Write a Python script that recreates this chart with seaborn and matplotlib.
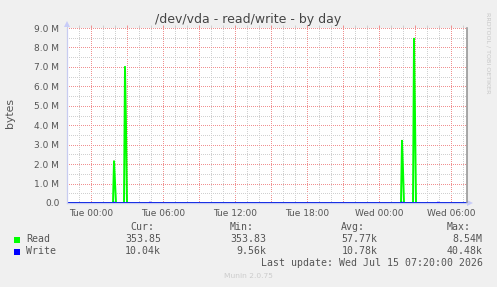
import numpy as np
import pandas as pd
import matplotlib
matplotlib.use("Agg")
import matplotlib.pyplot as plt
import matplotlib.dates as mdates
import seaborn as sns
from matplotlib.ticker import MultipleLocator, FixedLocator, FuncFormatter
from matplotlib.patches import Rectangle

# ---------------- data ----------------
start_time = "2026-07-13 22:00"
end_time = "2026-07-15 07:20"
sample_minutes = 5

read_baseline = 354.0
write_baseline = 10040.0

read_spike_times = ["2026-07-14 01:55", "2026-07-14 02:00",
                    "2026-07-14 02:50", "2026-07-14 02:55",
                    "2026-07-15 01:55", "2026-07-15 02:00",
                    "2026-07-15 02:55", "2026-07-15 03:00"]
read_spike_values = [2.15e6, 1.1e6,
                     7.0e6, 4.0e6,
                     3.2e6, 1.7e6,
                     8.45e6, 4.5e6]

write_spike_times = ["2026-07-14 01:55", "2026-07-14 04:55",
                     "2026-07-15 01:55", "2026-07-15 04:55"]
write_spike_values = [40480.0, 38000.0, 39000.0, 36000.0]

title = "/dev/vda - read/write - by day"
y_label = "bytes"
series_names = ["Read", "Write"]
series_colors = ["#00ff00", "#0000ff"]
legend_headers = ["Cur:", "Min:", "Avg:", "Max:"]
read_stats = ["353.85", "353.83", "57.77k", "8.54M"]
write_stats = ["10.04k", "9.56k", "10.78k", "40.48k"]
last_update = "Last update: Wed Jul 15 07:20:00 2026"
footer = "Munin 2.0.75"
side_text = "RRDTOOL / TOBI OETIKER"

# ---------------- build series ----------------
times = pd.date_range(start_time, end_time, freq=f"{sample_minutes}min")
read = pd.Series(read_baseline, index=times)
for t, v in zip(read_spike_times, read_spike_values):
    read[pd.Timestamp(t)] = v
write = pd.Series(write_baseline, index=times)
for t, v in zip(write_spike_times, write_spike_values):
    write[pd.Timestamp(t)] = v
df = pd.DataFrame({"time": times, "Read": read.values, "Write": write.values})

# ---------------- style ----------------
sns.set_theme(style="white")
plt.rcParams["font.family"] = ["DejaVu Sans"]

W, H = 497, 287
fig = plt.figure(figsize=(W / 100, H / 100), dpi=100, facecolor="#f0f0f0")

def fx(x):
    return x / W

def fy(y):
    return 1 - y / H

ax = fig.add_axes([fx(67), fy(203), 400 / W, 175 / H])
ax.set_facecolor("white")
ax.set_axisbelow(True)

sns.lineplot(data=df, x="time", y="Read", ax=ax, color=series_colors[0],
             linewidth=1.4, legend=False)
sns.lineplot(data=df, x="time", y="Write", ax=ax, color=series_colors[1],
             linewidth=1.0, legend=False)

ax.set_xlim(pd.Timestamp(start_time), pd.Timestamp(end_time))
ax.set_ylim(0, 9.0e6)
ax.set_xlabel("")
ax.set_ylabel("")

ax.xaxis.set_major_locator(mdates.HourLocator(byhour=range(0, 24, 3)))
ax.xaxis.set_minor_locator(mdates.HourLocator(byhour=[h for h in range(24) if h % 3]))

def xfmt(v, pos):
    d = mdates.num2date(v)
    if d.hour % 6 == 0:
        return d.strftime("%a %H:%M")
    return ""

ax.xaxis.set_major_formatter(FuncFormatter(xfmt))
ax.yaxis.set_major_locator(MultipleLocator(1e6))
ax.yaxis.set_minor_locator(FixedLocator(np.arange(0.5e6, 9.0e6, 1e6)))
ax.yaxis.set_major_formatter(FuncFormatter(
    lambda v, p: "0.0" if v == 0 else f"{v / 1e6:.1f} M"))

major_c = "#f09090"
minor_c = "#d0d0d0"
ax.grid(which="minor", color=minor_c, linestyle=(0.5, (1, 1)), linewidth=0.72)
ax.grid(which="major", color=major_c, linestyle=(0.5, (1, 1)), linewidth=0.72)

ax.tick_params(axis="both", which="major", labelsize=6.5, labelcolor="#555555",
               length=2, width=0.7, color=major_c, direction="out")
ax.tick_params(axis="both", which="minor", length=2, width=0.7,
               color=minor_c, direction="out")
ax.tick_params(axis="x", which="both", top=True)
ax.tick_params(axis="x", which="major", pad=2)
ax.tick_params(axis="y", which="major", pad=3.5)

ax.spines["top"].set_visible(False)
ax.spines["left"].set_color("#c8ccf0")
ax.spines["bottom"].set_color("#c8ccf0")
ax.spines["left"].set_linewidth(0.9)
ax.spines["bottom"].set_linewidth(0.9)
ax.spines["right"].set_color("#909090")
ax.spines["right"].set_linewidth(1.1)

ax.plot(0, 1.025, marker="^", transform=ax.transAxes, clip_on=False,
        color="#c8ccf8", markersize=4, markeredgewidth=0)
ax.plot(1.0085, 0, marker=">", transform=ax.transAxes, clip_on=False,
        color="#c8ccf8", markersize=4, markeredgewidth=0)

# ---------------- texts ----------------
fig.text(fx(248), fy(19), title, ha="center", va="center", fontsize=9,
         color="#444444")
fig.text(fx(10), fy(113), y_label, ha="center", va="center", rotation=90,
         fontsize=7.8, color="#555555")
fig.text(fx(488), fy(53), side_text, ha="center", va="center", rotation=-90,
         fontsize=4.6, color="#c8c8c8")

mono = dict(family="DejaVu Sans Mono", fontsize=7.1, color="#555555",
            va="center")
header_right = [154, 254, 365, 470.7]
value_right = [161, 266, 377.7, 482.7]
for h, xr in zip(legend_headers, header_right):
    fig.text(fx(xr), fy(227), h, ha="right", **mono)
for row_y, name, color, stats in [(239.5, series_names[0], series_colors[0], read_stats),
                                  (251.5, series_names[1], series_colors[1], write_stats)]:
    fig.patches.append(Rectangle((fx(14), fy(row_y + 3)), 6 / W, 6 / H,
                                 transform=fig.transFigure, facecolor=color,
                                 edgecolor="none"))
    fig.text(fx(26), fy(row_y), name, ha="left", **mono)
    for s, xr in zip(stats, value_right):
        fig.text(fx(xr), fy(row_y), s, ha="right", **mono)
fig.text(fx(482.7), fy(263.5), last_update, ha="right", **mono)
fig.text(fx(248), fy(276), footer, ha="center", va="center", fontsize=5.4,
         color="#cccccc")

fig.savefig("out.png", dpi=100, facecolor=fig.get_facecolor())
